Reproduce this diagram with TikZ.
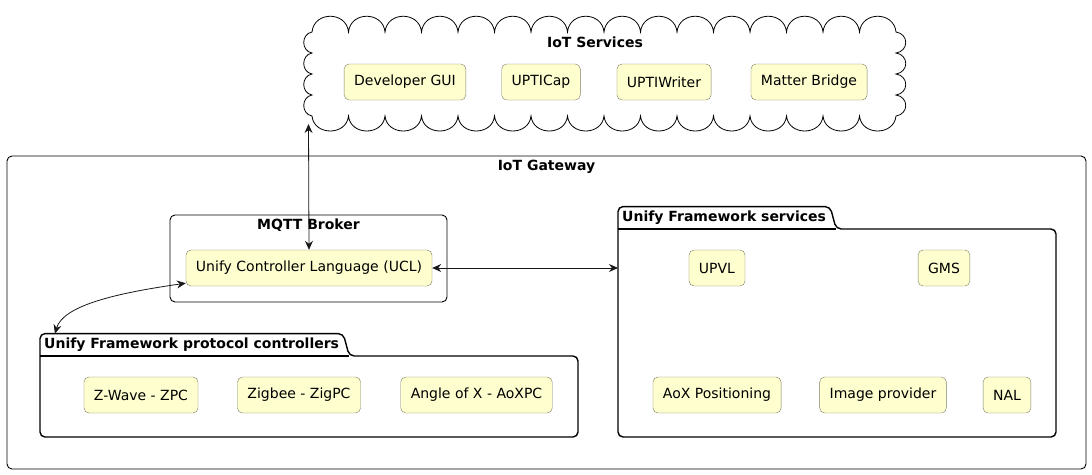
\documentclass[tikz,border=0pt]{standalone}
\usepackage{fontspec}
\setmainfont{DejaVu Sans}
\usetikzlibrary{arrows.meta,positioning}

\definecolor{compfill}{HTML}{FEFECE}
\definecolor{compline}{HTML}{7C7C66}
\definecolor{linkgray}{HTML}{181818}

\begin{document}
\begin{tikzpicture}[x=1pt,y=-1pt,>={Stealth[length=9pt,width=8pt,inset=3pt]},
    comp/.style={draw=compline,fill=compfill,rounded corners=5pt,minimum height=36pt,
      inner xsep=10pt,font=\fontsize{14}{16}\selectfont},
    frame/.style={draw=black,line width=0.9pt,rounded corners=5pt,inner sep=0pt,outer sep=0pt},
    title/.style={font=\bfseries\fontsize{14}{16}\selectfont,inner sep=0pt},
    tab/.style={title,inner xsep=4pt,minimum height=22pt,anchor=south west},
    pkg/.style={draw=black,line width=1.4pt,rounded corners=5pt},
    hull/.style={inner sep=0pt,outer sep=0pt},
    link/.style={<->,draw=linkgray,line width=0.8pt}]
    \useasboundingbox (0,0) rectangle (1092,474);

    % cloud of services
    \draw[line width=0.8pt] (312,32)
      \foreach \i in {1,...,16} { .. controls +(2,-21) and +(-2,-21) .. ++(36.5,0) }
      \foreach \i in {1,...,4}  { .. controls +(13,2) and +(13,-2) .. ++(0,21) }
      \foreach \i in {1,...,16} { .. controls +(-2,20) and +(2,20) .. ++(-36.5,0) }
      \foreach \i in {1,...,4}  { .. controls +(-11,-2) and +(-11,2) .. ++(0,-21) }
      -- cycle;
    \node[title] (svctitle) at (595,42) {IoT Services};
    \node[comp] (devgui) at (405,82) {Developer GUI};
    \node[comp] (upticap) at (541,82) {UPTICap};
    \node[comp] (uptiwriter) at (664,82) {UPTIWriter};
    \node[comp] (matter) at (809,82) {Matter Bridge};
    \coordinate (cloudfoot) at (308.5,124);

    % gateway
    \node[frame,minimum width=1079pt,minimum height=313pt] (gw) at (546.5,312.5) {};
    \node[title,below=4pt of gw.north] (gwtitle) {IoT Gateway};

    \node[frame,minimum width=277pt,minimum height=87pt] (broker) at (308.5,258.5) {};
    \node[title,below=4pt of broker.north] (brokertitle) {MQTT Broker};
    \node[comp] (ucl) at (309,268) {Unify Controller Language (UCL)};

    % framework services
    \node[tab] (fwstab) at (618,229) {Unify Framework services};
    \node[hull,minimum width=438pt,minimum height=208pt,anchor=north west] (fws) at (fwstab.south west) {};
    \draw[pkg] (fws.south west) -- (fwstab.north west) -- (fwstab.north east)
      -- ([xshift=6pt]fwstab.south east) -- (fws.north east) -- (fws.south east) -- cycle;
    \draw[pkg] (fwstab.south west) -- ([xshift=6pt]fwstab.south east);
    \node[comp] (upvl) at (717,268) {UPVL};
    \node[comp] (gms) at (944,268) {GMS};
    \node[comp] (aoxpos) at (717,395) {AoX Positioning};
    \node[comp] (imgprov) at (883,395) {Image provider};
    \node[comp] (nal) at (1007,395) {NAL};

    % protocol controllers
    \node[tab] (pfctab) at (40,356) {Unify Framework protocol controllers};
    \node[hull,minimum width=538pt,minimum height=81pt,anchor=north west] (pfc) at (pfctab.south west) {};
    \draw[pkg] (pfc.south west) -- (pfctab.north west) -- (pfctab.north east)
      -- ([xshift=6pt]pfctab.south east) -- (pfc.north east) -- (pfc.south east) -- cycle;
    \draw[pkg] (pfctab.south west) -- ([xshift=6pt]pfctab.south east);
    \node[comp] (zpc) at (141,395) {Z-Wave - ZPC};
    \node[comp] (zigpc) at (299,395) {Zigbee - ZigPC};
    \node[comp] (aoxpc) at (476.5,395) {Angle of X - AoXPC};

    \draw[link] (cloudfoot) -- (ucl.north);
    \draw[link] (ucl.east) -- (ucl.east -| fws.west);
    \draw[link] ([yshift=3pt]ucl.south west) .. controls +(-70,10) and +(8,-28) .. ([xshift=15pt]pfctab.north west);

\end{tikzpicture}
\end{document}
